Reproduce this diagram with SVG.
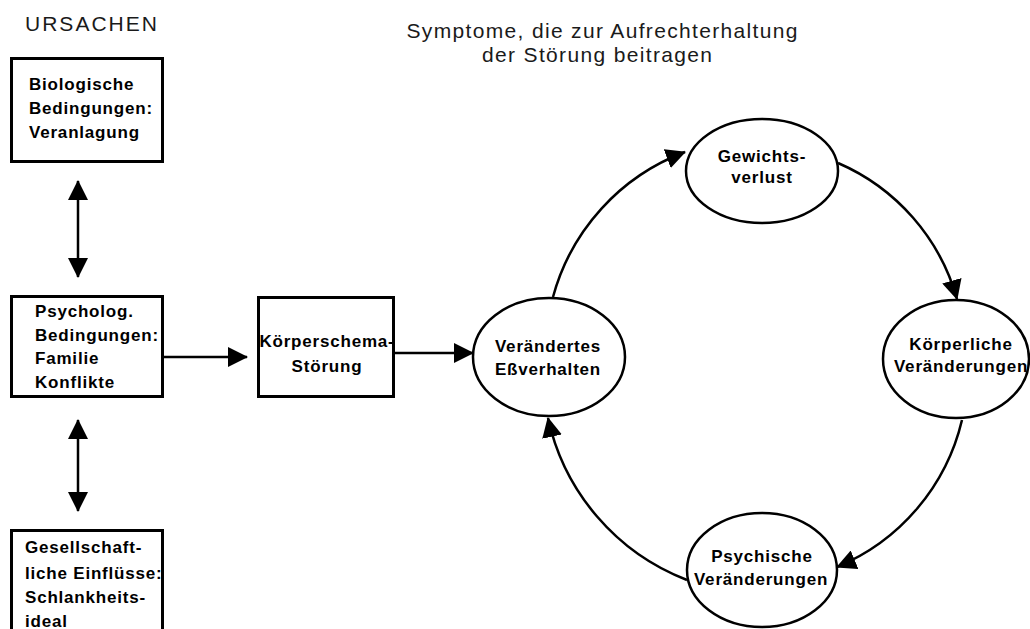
<svg xmlns="http://www.w3.org/2000/svg" width="1030" height="629" viewBox="0 0 1030 629">
<defs>
<style>
.box{fill:#fff;stroke:#000;stroke-width:3}
.ell{fill:#fff;stroke:#000;stroke-width:2.5}
.t{font-family:"Liberation Sans",Arial,sans-serif;font-weight:bold;font-size:17px;letter-spacing:0.8px;fill:#000}
.tc{text-anchor:middle}
.title{font-family:"Liberation Sans",Arial,sans-serif;font-size:21px;fill:#1a1a1a}
.line{fill:none;stroke:#000;stroke-width:2.5}
</style>
<marker id="ah" viewBox="0 0 20 20" refX="19" refY="10" markerWidth="20" markerHeight="20" markerUnits="userSpaceOnUse" orient="auto">
<path d="M0,0 L20,10 L0,20 Z" fill="#000"/>
</marker>
<marker id="ahs" viewBox="0 0 20 20" refX="19" refY="10" markerWidth="20" markerHeight="20" markerUnits="userSpaceOnUse" orient="auto-start-reverse">
<path d="M0,0 L20,10 L0,20 Z" fill="#000"/>
</marker>
</defs>
<rect width="1030" height="629" fill="#fff"/>

<text class="title" x="25" y="31" textLength="132" lengthAdjust="spacing">URSACHEN</text>
<text class="title tc" x="602" y="38" textLength="391" lengthAdjust="spacing">Symptome, die zur Aufrechterhaltung</text>
<text class="title tc" x="597" y="62" textLength="230" lengthAdjust="spacing">der Störung beitragen</text>

<g id="connectors">
<line class="line" x1="78" y1="181" x2="78" y2="277" marker-start="url(#ahs)" marker-end="url(#ah)"/>
<line class="line" x1="78" y1="420" x2="78" y2="511" marker-start="url(#ahs)" marker-end="url(#ah)"/>
<line class="line" x1="163" y1="357" x2="247" y2="357" marker-end="url(#ah)"/>
<line class="line" x1="394" y1="353" x2="473" y2="353" marker-end="url(#ah)"/>
<path class="line" d="M553,297 A215,215 0 0 1 685,152" marker-end="url(#ah)"/>
<path class="line" d="M838,163 A210,210 0 0 1 957,299" marker-end="url(#ah)"/>
<path class="line" d="M962,420 A212,212 0 0 1 837,567" marker-end="url(#ah)"/>
<path class="line" d="M687,580 A225,225 0 0 1 548,418" marker-end="url(#ah)"/>
</g>

<g id="n-bio">
<rect class="box" x="11.5" y="58.5" width="151" height="103"/>
<text class="t" x="29" y="90">Biologische</text>
<text class="t" x="29" y="114">Bedingungen:</text>
<text class="t" x="29" y="138">Veranlagung</text>
</g>

<g id="n-psych">
<rect class="box" x="11.5" y="296.5" width="151" height="100"/>
<text class="t" x="35" y="317">Psycholog.</text>
<text class="t" x="35" y="341">Bedingungen:</text>
<text class="t" x="35" y="364">Familie</text>
<text class="t" x="35" y="388">Konflikte</text>
</g>

<g id="n-gesell">
<rect class="box" x="11.5" y="530.5" width="151" height="110"/>
<text class="t" x="25" y="553">Gesellschaft-</text>
<text class="t" x="25" y="579">liche Einflüsse:</text>
<text class="t" x="25" y="603">Schlankheits-</text>
<text class="t" x="25" y="627">ideal</text>
</g>

<g id="n-koerperschema">
<rect class="box" x="258.5" y="297.5" width="135" height="99"/>
<text class="t tc" x="327" y="347">Körperschema-</text>
<text class="t tc" x="327" y="372">Störung</text>
</g>

<g id="n-essverhalten">
<ellipse class="ell" cx="549" cy="357" rx="76" ry="59"/>
<text class="t tc" x="548" y="352">Verändertes</text>
<text class="t tc" x="548" y="375">Eßverhalten</text>
</g>

<g id="n-gewicht">
<ellipse class="ell" cx="762" cy="171" rx="76" ry="52"/>
<text class="t tc" x="762" y="162">Gewichts-</text>
<text class="t tc" x="762" y="183">verlust</text>
</g>

<g id="n-koerperlich">
<ellipse class="ell" cx="956" cy="359" rx="73" ry="59"/>
<text class="t tc" x="961" y="350">Körperliche</text>
<text class="t tc" x="961" y="372">Veränderungen</text>
</g>

<g id="n-psychisch">
<ellipse class="ell" cx="762" cy="570" rx="75" ry="57"/>
<text class="t tc" x="762" y="562">Psychische</text>
<text class="t tc" x="761" y="585">Veränderungen</text>
</g>
</svg>
